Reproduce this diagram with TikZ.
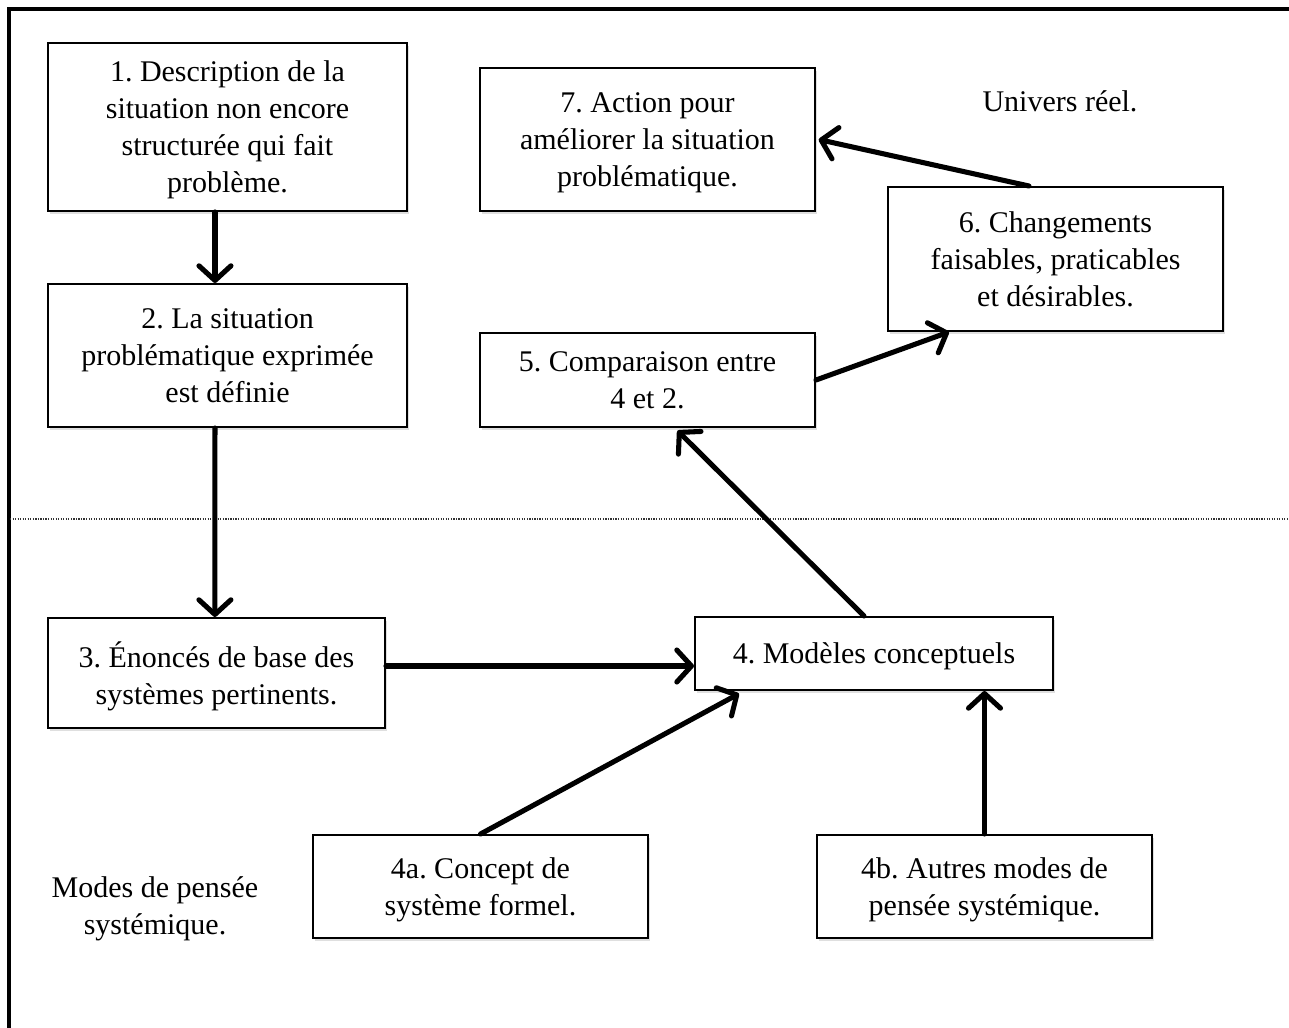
\documentclass[tikz,border=0pt]{standalone}
\usepackage{fontspec}
\setmainfont{Liberation Serif}
\usetikzlibrary{arrows.meta,shadows}
\begin{document}
\frenchspacing
\begin{tikzpicture}[x=0.75pt,y=-0.75pt,
  bx/.style n args={2}{draw=black, line width=1.5pt, fill=white,
    minimum width=#1*0.75pt, minimum height=#2*0.75pt, inner sep=0pt,
    align=center, font=\fontsize{22.5}{27.75}\selectfont, text depth=0pt,
    drop shadow={shadow xshift=1.5pt, shadow yshift=-2pt, opacity=0.25}},
  lbl/.style={align=center, font=\fontsize{22.5}{27.75}\selectfont, inner sep=0pt},
  arr/.style={line width=3.8pt, line cap=round, line join=round,
    -{Straight Barb[length=11pt,width=24pt,line width=3.8pt,round]}}]
\useasboundingbox (0,0) rectangle (1289,1028);
% frame
\draw[line width=2.4pt] (1289,9) -- (9,9) -- (9,1028);
\draw[densely dotted, line width=0.9pt, black!80] (10,519) -- (1289,519);
% boxes
\node[bx={359}{168}] (n1) at (227.5,127) {1. Description de la\\situation non encore\\structurée qui fait\\problème.};
\node[bx={359}{143}] (n2) at (227.5,355.5) {2. La situation\\problématique exprimée\\est définie};
\node[bx={337}{110}] (n3) at (216.5,673) {3. Énoncés de base des\\systèmes pertinents.};
\node[bx={335}{143}] (n7) at (647.5,139.5) {7. Action pour\\améliorer la situation\\problématique.};
\node[bx={335}{144}] (n6) at (1055.5,259) {6. Changements\\faisables, praticables\\et désirables.};
\node[bx={335}{94}] (n5) at (647.5,380) {5. Comparaison entre\\4 et 2.};
\node[bx={358}{73}] (n4) at (874,653.5) {4. Modèles conceptuels};
\node[bx={335}{103}] (n4a) at (480.5,886.5) {4a. Concept de\\système formel.};
\node[bx={335}{103}] (n4b) at (984.5,886.5) {4b. Autres modes de\\pensée systémique.};
\node[lbl] (ur) at (1060,101) {Univers réel.};
\node[lbl] (mp) at (155,909) {Modes de pensée\\systémique.};
% arrows
\draw[arr] ([xshift=-9.4pt]n1.south) -- ([xshift=-9.4pt]n2.north);
\draw[arr] ([xshift=-9.4pt]n2.south) -- ([xshift=-1.2pt]n3.north);
\draw[arr] ([yshift=5.25pt]n3.east) -- ([yshift=5.25pt]n3.east -| n4.west);
\draw[arr] (n4a.north) -- ([xshift=33.75pt,yshift=-2pt]n4.south west);
\draw[arr] (n4b.north) -- (n4b.north |- n4.south);
\draw[arr] ([xshift=127.5pt]n4.north west) -- ([xshift=22.5pt,yshift=-2pt]n5.south);
\draw[arr] (n5.east) -- ([xshift=46.5pt]n6.south west);
\draw[arr] ([xshift=106.5pt]n6.north west) -- ([xshift=2pt]n7.east);
\end{tikzpicture}
\end{document}
